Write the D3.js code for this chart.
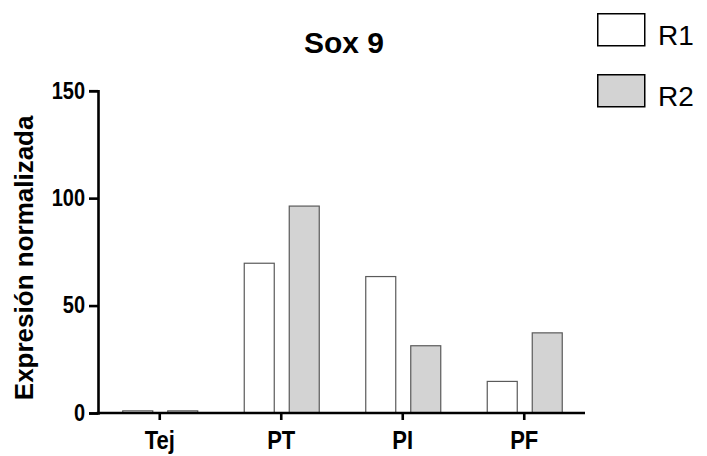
<!DOCTYPE html>
<html>
<head>
<meta charset="utf-8">
<script src="https://cdn.jsdelivr.net/npm/d3@7"></script>
<style>
  html, body { margin: 0; padding: 0; background: #fff; }
  svg { display: block; font-family: "Liberation Sans", Arial, sans-serif; }
</style>
</head>
<body>
<svg id="chart" width="707" height="456"></svg>
<script>
// Sox 9 normalised expression by tissue region
const categories = ["Tej", "PT", "PI", "PF"];
const seriesNames = ["R1", "R2"];
const r1Values = [1.0, 69.7, 63.5, 14.7];
const r2Values = [1.0, 96.3, 31.3, 37.3];
const yTicks = [0, 50, 100, 150];
const seriesFill = { R1: "#ffffff", R2: "#d3d3d3" };

const data = categories.map((c, i) => ({ cat: c, R1: r1Values[i], R2: r2Values[i] }));

const svg = d3.select("#chart");
const plot = { left: 98, right: 585, top: 90.7, bottom: 413 };

const x0 = d3.scaleBand().domain(categories).range([plot.left + 1, plot.right]).padding(0);
const x1 = d3.scaleBand().domain(seriesNames).range([-37, 38]).paddingInner(1 / 3).paddingOuter(0);
const y = d3.scaleLinear().domain([0, 150]).range([plot.bottom, plot.top]);

// Bars
const groups = svg.append("g").selectAll("g").data(data).join("g")
  .attr("transform", d => `translate(${x0(d.cat) + x0.bandwidth() / 2},0)`);
groups.selectAll("rect")
  .data(d => seriesNames.map(s => ({ s, v: d[s] })))
  .join("rect")
  .attr("x", d => x1(d.s))
  .attr("width", x1.bandwidth())
  .attr("y", d => y(d.v))
  .attr("height", d => y(0) - y(d.v))
  .attr("fill", d => seriesFill[d.s])
  .attr("stroke", "#5a5a5a")
  .attr("stroke-width", 1.2);

// Y axis
const yAxis = svg.append("g")
  .attr("transform", `translate(${plot.left},0)`)
  .call(d3.axisLeft(y).tickValues(yTicks).tickSize(9).tickPadding(4).tickFormat(d3.format("d")));
yAxis.select(".domain").attr("stroke", "#000").attr("stroke-width", 2.6);
yAxis.selectAll(".tick line").attr("stroke", "#000").attr("stroke-width", 2.6);
yAxis.selectAll(".tick text")
  .attr("fill", "#000")
  .attr("transform", "scale(1,1.15)")
  .style("font-size", "20px")
  .style("font-weight", "bold");

// X axis
const xAxis = svg.append("g")
  .attr("transform", `translate(0,${plot.bottom})`)
  .call(d3.axisBottom(x0).tickSize(7).tickPadding(10).tickSizeOuter(0));
xAxis.select(".domain").attr("stroke", "#000").attr("stroke-width", 2.6)
  .attr("d", `M${plot.left - 1.3},0H${plot.right}`);
xAxis.selectAll(".tick line").attr("stroke", "#000").attr("stroke-width", 2.6);
xAxis.selectAll(".tick text")
  .attr("fill", "#000")
  .attr("y", 0)
  .attr("dy", 0)
  .attr("transform", "translate(0,36) scale(1,1.15)")
  .style("font-size", "22px")
  .style("font-weight", "bold");

// Y axis title
svg.append("text")
  .attr("transform", `translate(33,${(plot.top + plot.bottom) / 2 + 6}) rotate(-90)`)
  .attr("text-anchor", "middle")
  .style("font-size", "26px")
  .style("font-weight", "bold")
  .text("Expresión normalizada");

// Chart title
svg.append("text")
  .attr("x", 344)
  .attr("y", 53)
  .attr("text-anchor", "middle")
  .style("font-size", "30px")
  .style("font-weight", "bold")
  .text("Sox 9");

// Legend
const legend = svg.append("g").attr("transform", "translate(597,13)");
const li = legend.selectAll("g").data(seriesNames).join("g")
  .attr("transform", (d, i) => `translate(0,${i * 61})`);
li.append("rect")
  .attr("x", 0.75).attr("y", 0.75)
  .attr("width", 47).attr("height", 32)
  .attr("fill", d => seriesFill[d])
  .attr("stroke", "#000")
  .attr("stroke-width", 1.5);
li.append("text")
  .attr("x", 61)
  .attr("y", 32)
  .style("font-size", "28px")
  .text(d => d);
</script>
</body>
</html>
